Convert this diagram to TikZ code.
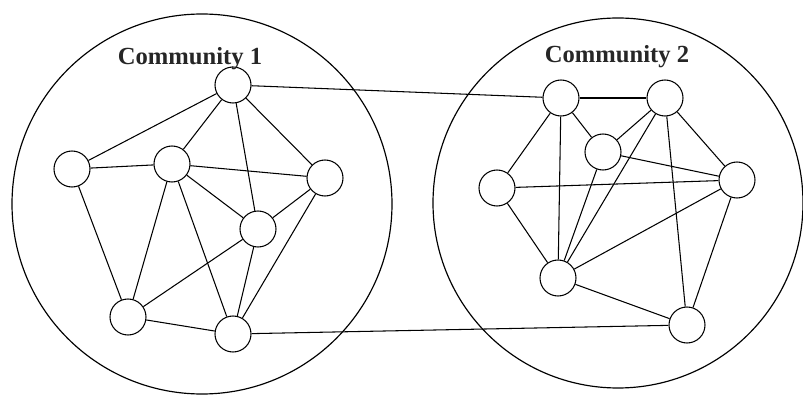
\documentclass[tikz,border=0pt]{standalone}
\usepackage{fontspec}
\setmainfont{Liberation Serif}
\usepackage{tikz}
\usetikzlibrary{positioning}
\tikzset{
    vertex/.style={draw, circle, fill=white, inner sep=0pt, minimum size=1.08cm, line width=0.9pt},
    community/.style={line width=1pt},
    commlabel/.style={font=\fontsize{21}{24}\selectfont\bfseries, text=black!85},
    edge/.style={line width=0.9pt}
}
\begin{document}
\begin{tikzpicture}[x=0.03cm, y=-0.03cm]
    \useasboundingbox (0,0) rectangle (803,399);

    % Communities
    \draw[community] (202,204) circle[radius=190];
    \draw[community] (618,203) circle[radius=185];

    % Community 1 vertices
    \node[vertex] (a) at (233,85) {};
    \node[vertex] (b) at (72,169) {};
    \node[vertex] (c) at (172,164) {};
    \node[vertex] (d) at (325,178) {};
    \node[vertex] (e) at (258,229) {};
    \node[vertex] (f) at (128,317) {};
    \node[vertex] (g) at (233,334) {};

    % Community 2 vertices
    \node[vertex] (p) at (561,98) {};
    \node[vertex] (q) at (665,98) {};
    \node[vertex] (r) at (603,152) {};
    \node[vertex] (s) at (497,188) {};
    \node[vertex] (t) at (737,180) {};
    \node[vertex] (u) at (558,278) {};
    \node[vertex] (v) at (687,325) {};

    % Labels
    \node[commlabel] (lab1) at (190,59) {Community 1};
    \node[commlabel] (lab2) at (617,57) {Community 2};

    % Edges inside community 1
    \foreach \i/\j in {a/b, a/c, a/e, a/d, b/c, b/f, c/d, c/e, c/f, c/g, d/e, d/g, e/f, e/g, f/g} {
        \draw[edge] (\i) -- (\j);
    }

    % Edges inside community 2
    \foreach \i/\j in {p/q, p/r, p/s, p/u, q/r, q/t, q/u, q/v, r/t, r/u, s/t, s/u, t/u, t/v, u/v} {
        \draw[edge] (\i) -- (\j);
    }

    % Links between communities
    \draw[edge] (a) -- (p);
    \draw[edge] (g) -- (v);
\end{tikzpicture}
\end{document}
